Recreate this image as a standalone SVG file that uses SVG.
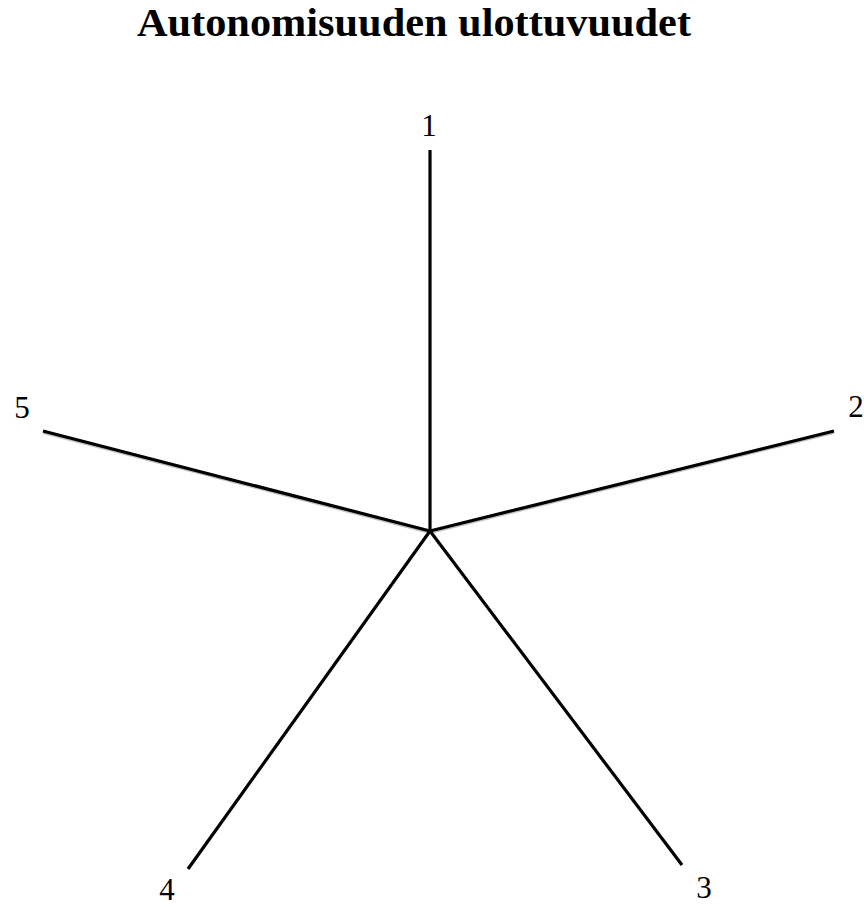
<svg xmlns="http://www.w3.org/2000/svg" width="864" height="907" viewBox="0 0 864 907">
  <style>
    .title { font-family: "Liberation Serif", "DejaVu Serif", serif; font-weight: bold; font-size: 39px; fill: #000; }
    .lbl { font-family: "Liberation Serif", "DejaVu Serif", serif; font-size: 31px; fill: #000; text-anchor: middle; }
    .axis { stroke: #000; stroke-width: 3.2; stroke-linecap: butt; fill: none; }
    .shadow { stroke: #9a9a9a; stroke-width: 3; fill: none; opacity: 0.6; }
  </style>
  <rect width="864" height="907" fill="#fff"/>
  <text class="title" x="414" y="36" text-anchor="middle" textLength="554" lengthAdjust="spacingAndGlyphs">Autonomisuuden ulottuvuudet</text>
  <g id="connectors">
    <g transform="translate(0,1.5)">
      <line class="shadow" x1="430" y1="531" x2="834" y2="431"/>
      <line class="shadow" x1="430" y1="531" x2="43" y2="431"/>
    </g>
    <line class="axis" x1="430" y1="531" x2="430" y2="150"/>
    <line class="axis" x1="430" y1="531" x2="834" y2="431"/>
    <line class="axis" x1="430" y1="531" x2="682" y2="865"/>
    <line class="axis" x1="430" y1="531" x2="188" y2="869"/>
    <line class="axis" x1="430" y1="531" x2="43" y2="431"/>
  </g>
  <g id="node-1"><text class="lbl" x="429" y="136">1</text></g>
  <g id="node-2"><text class="lbl" x="856" y="417">2</text></g>
  <g id="node-3"><text class="lbl" x="704" y="898">3</text></g>
  <g id="node-4"><text class="lbl" x="167" y="900">4</text></g>
  <g id="node-5"><text class="lbl" x="22" y="418">5</text></g>
</svg>
